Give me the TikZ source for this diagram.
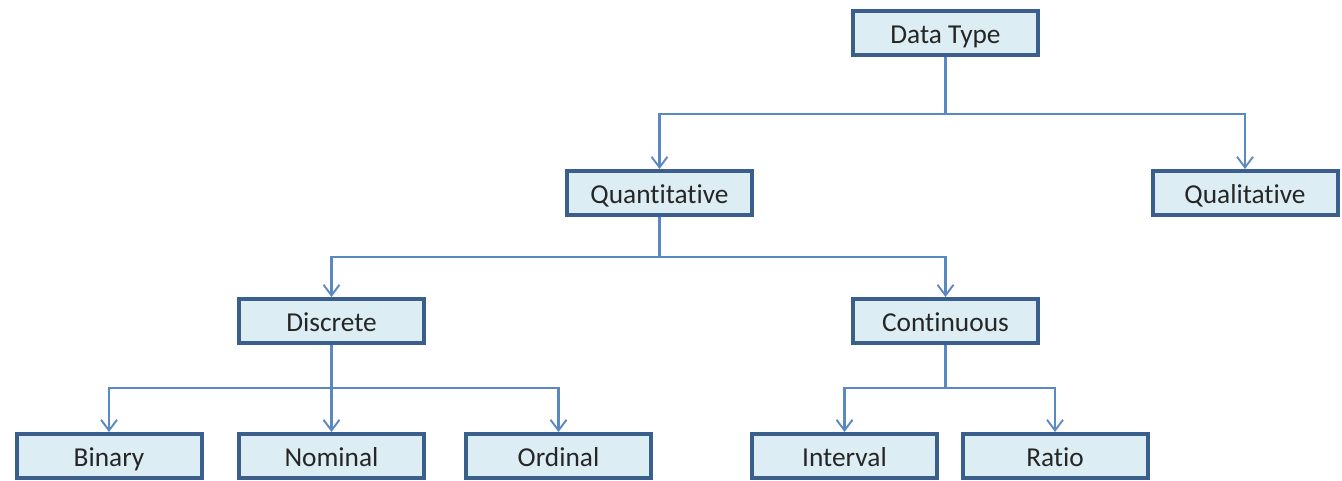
\documentclass[tikz,border=0pt]{standalone}
\usepackage{fontspec}
\setmainfont{Carlito}[Ligatures={NoCommon}]
\usetikzlibrary{arrows.meta}
\definecolor{boxline}{HTML}{3B5F8C}
\definecolor{boxfill}{HTML}{DCEEF4}
\definecolor{conn}{HTML}{5A88C2}
\tikzset{
  box/.style={draw=boxline, fill=boxfill, line width=3pt, minimum width=185*0.75pt, minimum height=44*0.75pt, inner sep=0pt, text height=16pt, text depth=0pt, font=\fontsize{20.5}{24}\selectfont, text=black!85},
  conn/.style={draw=conn, line width=1.6pt, -{Straight Barb[length=8pt,width=12pt,line width=1.4pt]}},
  trunk/.style={draw=conn, line width=1.6pt}
}
\begin{document}
\begin{tikzpicture}[x=0.75pt,y=-0.75pt]
\useasboundingbox (0,0) rectangle (1342,480);
\clip (0,0) rectangle (1342,480);
\node[box] (dt) at (945.5,33) {Data Type};
\node[box] (quant) at (659.5,193) {Quantitative};
\node[box] (qual) at (1245,193) {Qualitative};
\node[box] (disc) at (331.5,321) {Discrete};
\node[box] (cont) at (945.5,321) {Continuous};
\node[box] (bin) at (109,456) {Binary};
\node[box] (nom) at (331.5,456) {Nominal};
\node[box] (ord) at (558.5,456) {Ordinal};
\node[box] (int) at (844.5,456) {Interval};
\node[box] (rat) at (1055,456) {Ratio};
\coordinate (j1) at (945.5,114);
\coordinate (j2) at (659.5,257);
\coordinate (j3) at (331.5,388);
\coordinate (j4) at (945.5,388);
\draw[trunk] (dt.south) -- (j1);
\draw[conn] (j1) -| (quant.north);
\draw[conn] (j1) -| (qual.north);
\draw[trunk] (quant.south) -- (j2);
\draw[conn] (j2) -| (disc.north);
\draw[conn] (j2) -| (cont.north);
\draw[trunk] (disc.south) -- (j3);
\draw[conn] (j3) -| (bin.north);
\draw[conn] (j3) -- (nom.north);
\draw[conn] (j3) -| (ord.north);
\draw[trunk] (cont.south) -- (j4);
\draw[conn] (j4) -| (int.north);
\draw[conn] (j4) -| (rat.north);
\end{tikzpicture}
\end{document}
